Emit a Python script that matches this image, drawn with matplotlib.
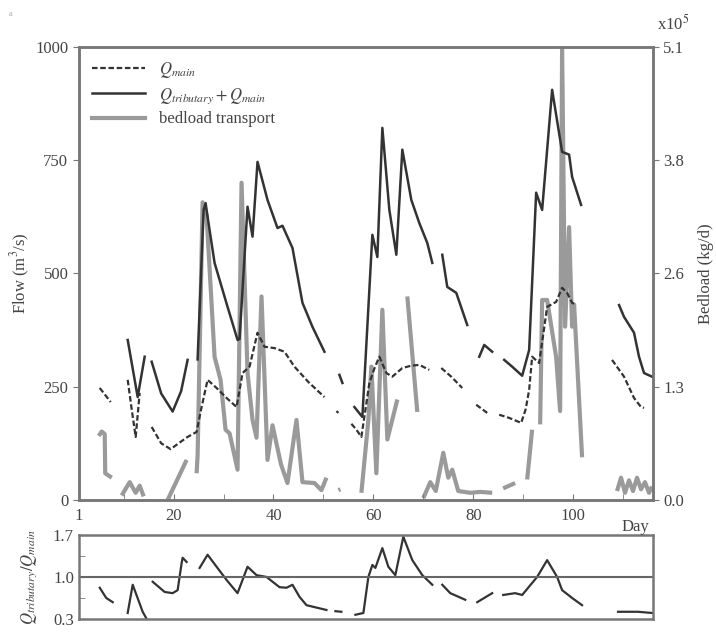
import numpy as np
import matplotlib
matplotlib.use("Agg")
import matplotlib.pyplot as plt

plt.rcParams['font.family'] = ['Liberation Serif', 'DejaVu Serif']
plt.rcParams['mathtext.fontset'] = 'stix'

nan = np.nan

# Q_tributary + Q_main (m3/s), gaps as nan
sum_day = [10.8, 12.8, 14.2, nan,
           15.6, 17.5, 19.8, 21.5, 22.8, nan,
           24.8, 26.0, 26.4, 27.0, 28.2, 30.8, 32.8, 33.2, 34.8, 35.8, 36.8, 38.8,
           40.8, 41.8, 43.8, 45.8, 47.8, 50.2, nan,
           53.2, 53.8, nan,
           56.2, 57.8, 59.8, 60.8, 61.8, 63.2, 64.6, 65.8, 67.6, 69.2, 70.8, 71.8, nan,
           73.8, 74.8, 76.6, 78.8, nan,
           81.2, 82.2, 83.8, nan,
           86.2, 87.8, 89.8, 91.2, 92.6, 93.8, 95.8, 97.8, 99.2, 99.8, 101.6, nan,
           109.2, 110.2, 112.2, 113.2, 114.2, 115.8]
sum_q = [353, 227, 316, nan,
         305, 235, 195, 240, 309, nan,
         310, 640, 655, 610, 523, 426, 353, 355, 647, 581, 746, 662,
         600, 605, 556, 435, 382, 327, nan,
         276, 258, nan,
         205, 183, 585, 536, 821, 640, 541, 773, 662, 611, 567, 523, nan,
         541, 470, 457, 386, nan,
         316, 342, 327, nan,
         309, 294, 274, 331, 678, 640, 905, 768, 762, 713, 651, nan,
         430, 404, 369, 316, 280, 272]

# Q_main (m3/s)
main_day = [5.2, 7.4, nan,
            10.8, 11.6, 12.4, 13.2, nan,
            15.6, 17.5, 19.4, 21.0, 22.8, 24.6, 25.5, 26.8, 28.6, 30.6, 32.6, 33.8,
            35.2, 36.8, 38.2, 40.2, 42.2, 44.2, 47.0, 50.2, nan,
            52.6, 53.0, nan,
            55.6, 56.6, 57.6, 59.2, 60.2, 61.2, 62.6, 63.8, 65.8, 67.5, 69.2, 71.2, nan,
            73.6, 75.6, 77.8, nan,
            80.6, 82.8, nan,
            85.2, 87.2, 89.6, 90.5, 91.2, 91.8, 93.2, 94.8, 96.6, 97.8, 98.8, 99.8, 100.6, nan,
            107.8, 110.2, 112.2, 113.6, 114.2]
main_q = [247, 216, nan,
          265, 200, 139, 236, nan,
          161, 125, 112, 125, 139, 150, 200, 265, 247, 225, 205, 280,
          294, 369, 338, 335, 327, 294, 260, 227, nan,
          196, 192, nan,
          168, 155, 139, 258, 290, 316, 280, 272, 291, 296, 298, 287, nan,
          291, 272, 247, nan,
          210, 192, nan,
          188, 181, 170, 200, 243, 316, 302, 426, 437, 468, 457, 435, 430, nan,
          309, 272, 225, 205, 203]

# bedload transport (x10^5 kg/d)
bed_day = [5.0, 5.6, 6.2, 6.3, 7.6, nan,
           9.6, 11.2, 12.4, 13.2, 14.0, nan,
           18.8, 20.5, 22.6, nan,
           24.6, 24.8, 25.8, 26.6, 28.2, 29.4, 30.4, 31.2, 32.8, 33.6, 34.8, 35.8,
           36.6, 37.6, 38.8, 39.8, 41.5, 42.8, 44.6, 45.8, 48.2, 49.6, 50.6, nan,
           53.0, 53.4, nan,
           57.6, 59.0, 59.6, 60.6, 61.8, 62.8, 64.8, nan,
           66.8, 68.8, nan,
           70.0, 71.4, 72.5, 74.0, 75.0, 75.8, 77.0, 79.4, 81.4, 83.8, nan,
           86.0, 88.4, nan,
           90.8, 91.8, nan,
           93.4, 93.8, 94.8, 96.6, 97.4, 97.8, 98.4, 99.2, 99.8, 100.2, 101.8, nan,
           108.8, 109.6, 110.4, 111.2, 112.0, 112.8, 113.6, 114.4, 115.2, 115.8]
bed_b = [0.72, 0.77, 0.74, 0.30, 0.25, nan,
         0.05, 0.20, 0.08, 0.16, 0.04, nan,
         0.00, 0.20, 0.45, nan,
         0.30, 0.50, 3.35, 3.20, 1.61, 1.35, 0.79, 0.75, 0.34, 3.57, 1.43, 0.90,
         0.70, 2.29, 0.45, 0.84, 0.40, 0.19, 0.90, 0.20, 0.19, 0.11, 0.25, nan,
         0.11, 0.12, nan,
         0.08, 0.90, 1.50, 0.30, 2.14, 0.68, 1.13, nan,
         2.29, 0.99, nan,
         0.02, 0.20, 0.10, 0.53, 0.25, 0.34, 0.10, 0.08, 0.09, 0.08, nan,
         0.13, 0.19, nan,
         0.23, 0.79, nan,
         0.85, 2.25, 2.25, 1.61, 1.00, 5.10, 1.95, 3.07, 1.95, 2.20, 0.48, nan,
         0.10, 0.25, 0.08, 0.22, 0.10, 0.25, 0.12, 0.20, 0.08, 0.15]

# Q_tributary / Q_main ratio
ratio_day = [5.2, 6.5, 7.8, nan,
             10.8, 11.8, 13.8, 14.6, nan,
             15.8, 18.2, 19.8, 20.8, 21.6, 21.8, 22.6, nan,
             25.2, 26.8, 28.6, 30.6, 32.8, 34.8, 36.6, 38.6, 41.2, 42.6, 43.8, 45.2, 46.6, 50.6, nan,
             52.4, 53.6, nan,
             56.4, 58.0, 59.0, 59.8, 60.4, 61.8, 63.0, 64.4, 66.0, 67.8, 69.8, 71.8, nan,
             73.8, 75.4, 78.4, nan,
             80.8, 83.8, nan,
             86.0, 88.4, 89.8, 91.0, 92.8, 94.8, 96.8, 97.8, 99.8, 101.8, nan,
             109.0, 113.0, 115.8]
ratio_r = [0.82, 0.65, 0.58, nan,
           0.40, 0.87, 0.42, 0.30, nan,
           0.92, 0.75, 0.73, 0.78, 1.23, 1.32, 1.25, nan,
           1.15, 1.37, 1.17, 0.95, 0.73, 1.17, 1.03, 1.00, 0.83, 0.82, 0.87, 0.67, 0.53, 0.45, nan,
           0.43, 0.42, nan,
           0.37, 0.40, 1.00, 1.20, 1.15, 1.48, 1.17, 1.03, 1.67, 1.28, 1.03, 0.87, nan,
           0.87, 0.73, 0.62, nan,
           0.58, 0.73, nan,
           0.70, 0.73, 0.70, 0.82, 1.00, 1.28, 1.00, 0.78, 0.65, 0.53, nan,
           0.42, 0.42, 0.40]

txt = '#444444'
spine = '#777777'

fig = plt.figure(figsize=(7.16, 6.32), dpi=100)
ax = fig.add_axes([0.110, 0.209, 0.802, 0.717])
ax2 = ax.twinx()
axr = fig.add_axes([0.110, 0.0206, 0.802, 0.133])

ax2.plot(bed_day, bed_b, color='#9a9a9a', lw=3.0, solid_capstyle='butt')
l1, = ax.plot(main_day, main_q, color='#333333', lw=1.6, ls=(0, (2.5, 1.2)))
l2, = ax.plot(sum_day, sum_q, color='#333333', lw=1.8)
l3, = ax.plot([], [], color='#9a9a9a', lw=3.0)
ax.set_zorder(ax2.get_zorder() + 1)
ax.patch.set_visible(False)

ax.set_xlim(1, 116)
ax.set_ylim(0, 1000)
ax2.set_ylim(0, 5.1)
ax.set_yticks([0, 250, 500, 750, 1000])
ax2.set_yticks([0, 1.275, 2.55, 3.825, 5.1])
ax2.set_yticklabels(['0.0', '1.3', '2.6', '3.8', '5.1'])
ax.set_xticks([1, 20, 40, 60, 80, 100])
ax.set_xticks(np.arange(10, 116, 10), minor=True)
ax.tick_params(axis='x', which='both', direction='in', length=4, color=spine,
               labelsize=12, labelcolor=txt, pad=6)
ax.tick_params(axis='y', direction='out', length=4, color=spine, labelsize=12, labelcolor=txt)
ax2.tick_params(axis='y', direction='out', length=4, color=spine, labelsize=12, labelcolor=txt)
for a in (ax, ax2, axr):
    for s in a.spines.values():
        s.set_color(spine)
        s.set_linewidth(1.8)

ax.set_ylabel('Flow (m$^3$/s)', fontsize=12, color=txt, labelpad=2)
ax2.set_ylabel('Bedload (kg/d)', fontsize=12, color=txt, rotation=90, labelpad=10)
ax.text(112.5, -0.043, 'Day', transform=ax.get_xaxis_transform(), ha='center', va='top',
        fontsize=12, color=txt)
ax2.text(1.035, 1.028, r'x10$^5$', transform=ax2.transAxes, ha='center', va='bottom',
         fontsize=12, color=txt)

leg = ax.legend([l1, l2, l3],
                [r'$Q_{main}$', r'$Q_{tributary}+Q_{main}$', 'bedload transport'],
                loc='upper left', frameon=False, fontsize=12, handlelength=3.2,
                labelspacing=0.35, borderaxespad=0.4)
for t in leg.get_texts():
    t.set_color(txt)

axr.plot(ratio_day, ratio_r, color='#333333', lw=1.6)
axr.axhline(1.0, color='#666666', lw=1.5)
axr.set_xlim(1, 116)
axr.set_ylim(0.3, 1.7)
axr.set_xticks([])
axr.set_yticks([0.3, 1.0, 1.7])
axr.set_yticks([0.65, 1.35], minor=True)
axr.tick_params(axis='y', which='both', direction='in', length=4, color=spine,
                labelsize=12, labelcolor=txt)
axr.set_ylabel(r'$Q_{tributary}/Q_{main}$', fontsize=12, color=txt, labelpad=10)

fig.text(0.012, 0.975, 'a', fontsize=6, color='#aaaaaa')

fig.savefig('out.png', dpi=100)
